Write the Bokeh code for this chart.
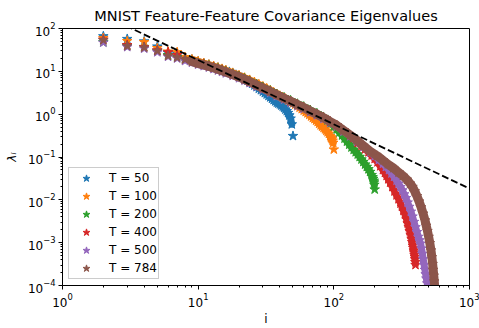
from bokeh.plotting import figure
from bokeh.models import Range1d, FixedTicker, LogTickFormatter, Legend, LegendItem
from bokeh.embed import file_html
from bokeh.resources import INLINE

# Eigenvalue index i and eigenvalue lambda_i for each sample size T
i_t50 = list(range(2, 51))
lam_t50 = [66, 57, 50, 38, 27, 26, 21, 18.8, 17, 15.4, 14.2, 13.1, 12.1, 11.2, 10.4,
           9.7, 9.0, 8.3, 7.7, 7.1, 6.6, 6.1, 5.6, 5.15, 4.7, 4.3, 3.95, 3.65, 3.38,
           3.12, 2.9, 2.68, 2.48, 2.3, 2.14, 2.0, 1.87, 1.78, 1.70, 1.60, 1.51, 1.40,
           1.29, 1.18, 1.07, 0.94, 0.79, 0.58, 0.31]

i_t100 = [2, 3, 4, 5, 6, 7, 8, 9, 10, 11, 12, 13, 14, 15, 16, 18, 20, 22, 24, 26, 28,
          30, 32, 34, 36, 38, 40, 42, 44, 46, 48, 50, 52, 54, 56, 58, 60, 62, 64, 66,
          68, 70, 72, 74, 76, 78, 80, 82, 84, 86, 88, 90, 92, 94, 95, 96, 97, 98, 99, 100]
lam_t100 = [60, 51, 48, 35, 29, 28, 21.5, 19, 17.2, 15.6, 14.4, 13.3, 12.3, 11.4, 10.6,
            9.2, 8.1, 7.1, 6.3, 5.6, 5.0, 4.45, 4.0, 3.6, 3.25, 2.95, 2.7, 2.5, 2.3,
            2.12, 1.97, 1.82, 1.68, 1.55, 1.43, 1.32, 1.22, 1.13, 1.05, 0.97, 0.89,
            0.82, 0.77, 0.71, 0.66, 0.60, 0.55, 0.515, 0.48, 0.445, 0.41, 0.38, 0.35,
            0.31, 0.29, 0.275, 0.26, 0.24, 0.215, 0.15]

i_t200 = [2, 3, 4, 5, 6, 7, 8, 9, 10, 11, 12, 13, 14, 15, 16, 18, 20, 22, 24, 27, 30,
          34, 38, 43, 48, 54, 60, 67, 75, 84, 90, 95, 100, 105, 110, 115, 120, 125,
          130, 135, 140, 145, 150, 155, 160, 165, 170, 175, 180, 185, 190, 193, 195,
          197, 198, 199, 200]
lam_t200 = [48, 40, 37, 30, 24, 22, 19.5, 17.5, 15.8, 14.7, 13.6, 12.6, 11.7, 10.8, 10.0,
            8.75, 7.7, 6.8, 6.0, 5.0, 4.25, 3.55, 2.95, 2.46, 2.1, 1.75, 1.5, 1.25,
            1.05, 0.86, 0.72, 0.62, 0.52, 0.44, 0.375, 0.32, 0.27, 0.23, 0.195, 0.168,
            0.148, 0.13, 0.115, 0.101, 0.088, 0.077, 0.067, 0.059, 0.052, 0.045, 0.038,
            0.034, 0.031, 0.028, 0.0255, 0.0225, 0.0175]

i_t400 = [2, 3, 4, 5, 6, 7, 8, 9, 10, 11, 12, 13, 14, 15, 16, 18, 20, 22, 24, 27, 30,
          34, 38, 43, 48, 54, 60, 67, 75, 84, 94, 105, 118, 132, 140, 150, 160, 170,
          180, 190, 200, 210, 220, 230, 238, 245, 252, 260, 270, 280, 290, 300, 310,
          318, 326, 335, 343, 350, 356, 362, 368, 374, 378, 382, 385, 388, 390, 393,
          395, 397, 399, 400]
lam_t400 = [55, 41, 37, 31, 28, 24, 19, 17.2, 15.5, 14.4, 13.3, 12.3, 11.4, 10.6, 9.8,
            8.5, 7.5, 6.6, 5.8, 4.85, 4.12, 3.42, 2.85, 2.38, 2.03, 1.69, 1.44, 1.2,
            1.0, 0.83, 0.67, 0.55, 0.42, 0.32, 0.277, 0.214, 0.183, 0.1525, 0.1295,
            0.1087, 0.0908, 0.0755, 0.0612, 0.0497, 0.0426, 0.0364, 0.0304, 0.0253,
            0.0200, 0.0158, 0.0128, 0.0104, 0.00825, 0.00687, 0.00558, 0.00453, 0.0036,
            0.00284, 0.00233, 0.00187, 0.00153, 0.00123, 0.00103, 0.000855, 0.000756,
            0.00066, 0.000592, 0.00052, 0.000467, 0.000411, 0.000352, 0.000302]

i_t500 = [2, 3, 4, 5, 6, 7, 8, 9, 10, 11, 12, 13, 14, 15, 16, 18, 20, 22, 24, 27, 30,
          34, 38, 43, 48, 54, 60, 67, 75, 84, 94, 105, 118, 132, 148, 165, 185, 200,
          215, 230, 242, 255, 266, 278, 290, 300, 310, 320, 330, 340, 350, 360, 370,
          380, 390, 400, 410, 420, 428, 436, 443, 450, 456, 463, 469, 475, 481, 488,
          493, 497, 500]
lam_t500 = [47, 37, 34, 28, 22, 20, 17.5, 16, 14.4, 13.3, 12.3, 11.4, 10.5, 9.75, 9.0,
            7.9, 6.95, 6.1, 5.35, 4.45, 3.8, 3.17, 2.65, 2.2, 1.88, 1.57, 1.34, 1.12,
            0.94, 0.78, 0.63, 0.515, 0.395, 0.305, 0.23, 0.172, 0.128, 0.1059, 0.086,
            0.0698, 0.0588, 0.0497, 0.0415, 0.0346, 0.0281, 0.024, 0.02, 0.0167, 0.0135,
            0.011, 0.00869, 0.00687, 0.0053, 0.00408, 0.00306, 0.0023, 0.00177, 0.00137,
            0.00114, 0.00095, 0.000732, 0.00055, 0.000412, 0.000302, 0.000233, 0.000184,
            0.000146, 0.000112, 0.0000865, 0.0000633, 0.0000395]

i_t784 = [2, 3, 4, 5, 6, 7, 8, 9, 10, 11, 12, 13, 14, 15, 16, 18, 20, 22, 24, 27, 30,
          34, 38, 43, 48, 54, 60, 67, 75, 84, 94, 105, 118, 132, 148, 165, 185, 209,
          230, 250, 275, 300, 323, 346, 365, 380, 395, 410, 425, 440, 455, 470, 480,
          490, 500, 510, 520, 528, 535, 540, 545, 550, 555, 560]
lam_t784 = [53.5, 39, 36, 30, 23, 21, 18.9, 17, 15.3, 14.2, 13.1, 12.1, 11.2, 10.4, 9.6,
            8.4, 7.4, 6.5, 5.7, 4.75, 4.06, 3.38, 2.82, 2.35, 2.01, 1.67, 1.43, 1.19,
            1.0, 0.83, 0.67, 0.55, 0.42, 0.324, 0.244, 0.183, 0.137, 0.106, 0.0837,
            0.068, 0.0552, 0.0437, 0.0364, 0.0296, 0.024, 0.02, 0.0158, 0.0122, 0.00916,
            0.0067, 0.00477, 0.00331, 0.00249, 0.00187, 0.00137, 0.000975, 0.00066,
            0.000458, 0.000318, 0.000233, 0.00017, 0.000125, 0.0000865, 0.000057]

# Power-law reference line, lambda ~ i^(-3/2)
guide_i = [1, 1000]
guide_lam = [580, 0.01834]

labels = ["T = 50", "T = 100", "T = 200", "T = 400", "T = 500", "T = 784"]
colors = ["#1f77b4", "#ff7f0e", "#2ca02c", "#d62728", "#9467bd", "#8c564b"]
band_widths = [7, 7, 7, 7, 7, 9]

x_ticks = [1, 10, 100, 1000]
y_ticks = [1e-4, 1e-3, 1e-2, 1e-1, 1, 10, 100]

FONT = "DejaVu Sans"


def minor_for(decades):
    return [m * d for d in decades[:-1] for m in range(2, 10)]


p = figure(width=479, height=328, x_axis_type="log", y_axis_type="log",
           x_range=Range1d(1, 1000), y_range=Range1d(1e-4, 1e2),
           output_backend="svg", toolbar_location=None,
           min_border_left=62, min_border_right=10,
           min_border_top=27, min_border_bottom=36)

p.title.text = "MNIST Feature-Feature Covariance Eigenvalues"
p.title.align = "center"
p.title.text_font = FONT
p.title.text_font_size = "14.5px"
p.title.text_font_style = "normal"
p.title.text_color = "black"

p.grid.visible = False
p.outline_line_color = "black"
p.outline_line_alpha = 1.0
p.outline_line_width = 1
p.background_fill_color = "white"
p.border_fill_color = "white"

p.xaxis.ticker = FixedTicker(ticks=x_ticks, minor_ticks=minor_for(x_ticks))
p.yaxis.ticker = FixedTicker(ticks=y_ticks, minor_ticks=minor_for(y_ticks))
p.xaxis.formatter = LogTickFormatter()
p.yaxis.formatter = LogTickFormatter()

for ax in (p.xaxis[0], p.yaxis[0]):
    ax.axis_line_color = "black"
    ax.axis_line_width = 1
    ax.major_tick_line_color = "black"
    ax.minor_tick_line_color = "black"
    ax.major_tick_out = 4
    ax.major_tick_in = 0
    ax.minor_tick_out = 2
    ax.minor_tick_in = 0
    ax.major_label_text_font = FONT
    ax.major_label_text_font_size = "12px"
    ax.major_label_text_color = "black"
    ax.major_label_standoff = 3
    ax.axis_label_text_font = FONT
    ax.axis_label_text_font_size = "12px"
    ax.axis_label_text_color = "black"
    ax.axis_label_standoff = 2

p.xaxis.axis_label = "i"
p.xaxis.axis_label_text_font_style = "normal"
p.yaxis.axis_label = "\u03bb\u1d62"
p.yaxis.axis_label_text_font_style = "italic"
p.yaxis.axis_label_standoff = 6

series_i = [i_t50, i_t100, i_t200, i_t400, i_t500, i_t784]
series_lam = [lam_t50, lam_t100, lam_t200, lam_t400, lam_t500, lam_t784]

items = []
for xs, ys, color, label, bw in zip(series_i, series_lam, colors, labels, band_widths):
    # the densely packed stretch (from the 9th eigenvalue on) merges into a band
    start = xs.index(9)
    p.line(xs[start:-1], ys[start:-1], line_color=color, line_width=bw,
           line_join="round", line_cap="round")
    r = p.scatter(xs, ys, marker="star", size=10, fill_color=color,
                  line_color=color, line_width=1)
    items.append(LegendItem(label=label, renderers=[r]))

p.line(guide_i, guide_lam, line_color="black", line_dash="7 3", line_width=1.8)

legend = Legend(items=items, location="bottom_left")
legend.margin = 6
legend.padding = 1
legend.spacing = 0
legend.glyph_width = 32
legend.glyph_height = 18
legend.label_height = 18
legend.label_standoff = 7
legend.label_text_font = FONT
legend.label_text_font_size = "12px"
legend.label_text_color = "black"
legend.border_line_color = "#cccccc"
legend.border_line_width = 1
legend.border_line_alpha = 1.0
legend.background_fill_alpha = 0.8
p.add_layout(legend)

open("out.html", "w").write(file_html(p, INLINE))
